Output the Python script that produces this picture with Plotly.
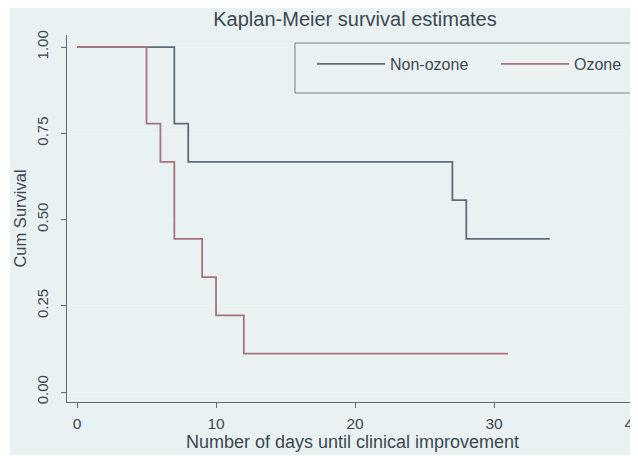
import plotly.graph_objects as go

# Kaplan-Meier step data (time in days, survival probability)
non_ozone_t = [0, 7, 8, 27, 28, 34]
non_ozone_s = [1.0, 0.778, 0.667, 0.556, 0.444, 0.444]
ozone_t = [0, 5, 6, 7, 9, 10, 12, 31]
ozone_s = [1.0, 0.778, 0.667, 0.444, 0.333, 0.222, 0.111, 0.111]

x_ticks = [0, 10, 20, 30, 40]
y_ticks = [0.0, 0.25, 0.50, 0.75, 1.00]
y_tick_labels = ["0.00", "0.25", "0.50", "0.75", "1.00"]

# the page body adds an 8px offset, so the figure is drawn 8px smaller
OFF = 8
W, H = 638 - OFF, 456 - OFF
L, R, T, B = 67 - OFF, 0, 35 - OFF, 456 - 402
pw, ph = W - L - R, H - T - B

def px(x):  # reference-image x pixel -> paper x
    return (x - OFF - L) / pw

def py(y):  # reference-image y pixel -> paper y
    return (H - B - (y - OFF)) / ph

axis_col = "#5d6b72"
text_col = "#3b4850"
font = "Liberation Sans, Arial, sans-serif"

fig = go.Figure()
fig.add_trace(go.Scatter(x=non_ozone_t, y=non_ozone_s, mode="lines", name="Non-ozone",
                         line=dict(color="#5e6d78", width=1.8, shape="hv")))
fig.add_trace(go.Scatter(x=ozone_t, y=ozone_s, mode="lines", name="Ozone",
                         line=dict(color="#a8737c", width=1.8, shape="hv")))

fig.update_layout(
    width=W, height=H,
    margin=dict(l=L, r=R, t=T, b=B, autoexpand=False),
    paper_bgcolor="white", plot_bgcolor="white",
    font=dict(family=font, color=text_col),
    title=dict(text="Kaplan-Meier survival estimates", x=px(355), xref="paper",
               xanchor="center", y=1 - (19 - OFF) / H, yref="container", yanchor="middle",
               font=dict(size=20, color=text_col)),
    showlegend=True,
    legend=dict(orientation="h", x=px(312), y=py(64), xanchor="left", yanchor="middle",
                bgcolor="rgba(0,0,0,0)", borderwidth=0, font=dict(size=16, color=text_col),
                itemwidth=68, entrywidth=101, entrywidthmode="pixels"),
    shapes=[
        dict(type="rect", xref="paper", yref="paper", x0=px(10), x1=px(650), y0=py(455), y1=py(0),
             fillcolor="#eaf1f3", line=dict(width=0), layer="below"),
        dict(type="rect", xref="paper", yref="paper", x0=px(295), x1=px(650), y0=py(93), y1=py(43),
             fillcolor="rgba(0,0,0,0)", line=dict(color="#7a8288", width=1), layer="above"),
    ],
)

fig.update_xaxes(range=[-0.72, 40.35], tickvals=x_ticks, ticks="outside", ticklen=5,
                 tickcolor=axis_col, showline=True, linecolor=axis_col, linewidth=1.2,
                 showgrid=False, zeroline=False, tickfont=dict(size=15.5, color=text_col),
                 ticklabelstandoff=2, ticklabeloverflow="allow",
                 title=dict(text="Number of days until clinical improvement",
                            font=dict(size=18, color=text_col), standoff=4))
fig.update_yaxes(range=[-0.029, 1.035], tickvals=y_ticks, ticktext=y_tick_labels,
                 tickangle=-90, ticks="outside", ticklen=5, tickcolor=axis_col,
                 showline=True, linecolor=axis_col, linewidth=1.2,
                 showgrid=True, gridcolor="#eef3f4", gridwidth=1, zeroline=False,
                 tickfont=dict(size=15, color=text_col), ticklabelstandoff=7,
                 title=dict(text="Cum Survival", font=dict(size=16.5, color=text_col), standoff=3))

fig.write_html("out.html")
